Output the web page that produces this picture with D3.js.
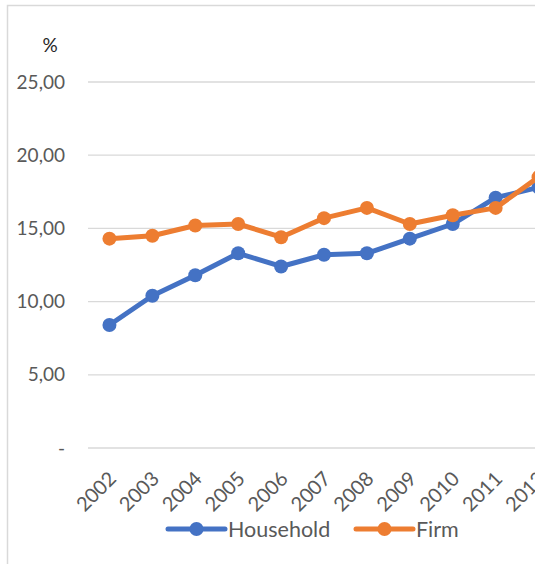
<!DOCTYPE html>
<html>
<head>
<meta charset="utf-8">
<script src="https://cdn.jsdelivr.net/npm/d3@7"></script>
<style>
  html, body { margin: 0; padding: 0; background: #fff; overflow: hidden; }
  svg { display: block; }
  text { font-family: Lato, "Open Sans", sans-serif; }
</style>
</head>
<body>
<svg id="chart" width="535" height="564"></svg>
<script>
const years = ["2002","2003","2004","2005","2006","2007","2008","2009","2010","2011","2012"];
const household = [8.4, 10.4, 11.8, 13.3, 12.4, 13.2, 13.3, 14.3, 15.3, 17.1, 17.8];
const firm = [14.3, 14.5, 15.2, 15.3, 14.4, 15.7, 16.4, 15.3, 15.9, 16.4, 18.5];
const yTicks = [0, 5, 10, 15, 20, 25];
const yTickLabels = ["-", "5,00", "10,00", "15,00", "20,00", "25,00"];
const seriesNames = ["Household", "Firm"];
const seriesColors = ["#4472C4", "#ED7D31"];

const svg = d3.select("#chart");

// outer chart border (extends beyond the visible window)
svg.append("rect")
  .attr("x", 7.5).attr("y", 5.5)
  .attr("width", 600).attr("height", 600)
  .attr("fill", "none").attr("stroke", "#d9d9d9").attr("stroke-width", 1.5);

const plotLeft = 88, plotRight = 560, plotTop = 82, plotBottom = 448;

const x = d3.scaleBand().domain(years).range([plotLeft, plotRight]);
const y = d3.scaleLinear().domain([0, 25]).range([plotBottom, plotTop]);

// gridlines
svg.append("g").selectAll("line").data(yTicks).join("line")
  .attr("x1", plotLeft).attr("x2", plotRight)
  .attr("y1", d => y(d)).attr("y2", d => y(d))
  .attr("stroke", "#d9d9d9").attr("stroke-width", 1.3);

// y axis labels
const yAxis = d3.axisLeft(y).tickValues(yTicks)
  .tickFormat((d, i) => yTickLabels[i]).tickSize(0).tickPadding(0);
const yg = svg.append("g").attr("transform", `translate(65,0)`).call(yAxis);
yg.select(".domain").remove();
yg.selectAll("text")
  .attr("fill", "#595959")
  .style("font-size", "19px")
  .style("font-family", "Lato, sans-serif");

// unit label
svg.append("text").attr("x", 50).attr("y", 52)
  .attr("text-anchor", "middle")
  .attr("fill", "#262626")
  .style("font-size", "19px")
  .text("%");

// x axis labels
const xAxis = d3.axisBottom(x).tickSize(0).tickPadding(0);
const xg = svg.append("g").attr("transform", `translate(0,${plotBottom})`).call(xAxis);
xg.select(".domain").remove();
xg.selectAll("text")
  .attr("fill", "#595959")
  .style("font-size", "20px")
  .style("font-family", "Lato, sans-serif")
  .attr("text-anchor", "end")
  .attr("dy", null)
  .attr("y", 0)
  .attr("transform", "translate(8,32) rotate(-45)");

// lines + markers
const cx = d => x(d) + x.bandwidth() / 2;
const seriesData = [household, firm];
seriesData.forEach((vals, si) => {
  const pts = years.map((yr, i) => [cx(yr), y(vals[i])]);
  svg.append("path")
    .attr("d", d3.line()(pts))
    .attr("fill", "none")
    .attr("stroke", seriesColors[si])
    .attr("stroke-width", 5)
    .attr("stroke-linejoin", "round");
  svg.append("g").selectAll("circle").data(years).join("circle")
    .attr("cx", d => cx(d))
    .attr("cy", (d, i) => y(vals[i]))
    .attr("r", 7)
    .attr("fill", seriesColors[si]);
});

// legend
const legendItems = [
  { name: seriesNames[0], color: seriesColors[0], x0: 168 },
  { name: seriesNames[1], color: seriesColors[1], x0: 356 }
];
const legendY = 529;
legendItems.forEach(it => {
  svg.append("line")
    .attr("x1", it.x0).attr("x2", it.x0 + 57)
    .attr("y1", legendY).attr("y2", legendY)
    .attr("stroke", it.color).attr("stroke-width", 5)
    .attr("stroke-linecap", "round");
  svg.append("circle")
    .attr("cx", it.x0 + 28.5).attr("cy", legendY).attr("r", 7)
    .attr("fill", it.color);
  svg.append("text")
    .attr("x", it.x0 + 60).attr("y", legendY + 8)
    .attr("fill", "#595959")
    .style("font-size", "21.5px")
    .text(it.name);
});
</script>
</body>
</html>
